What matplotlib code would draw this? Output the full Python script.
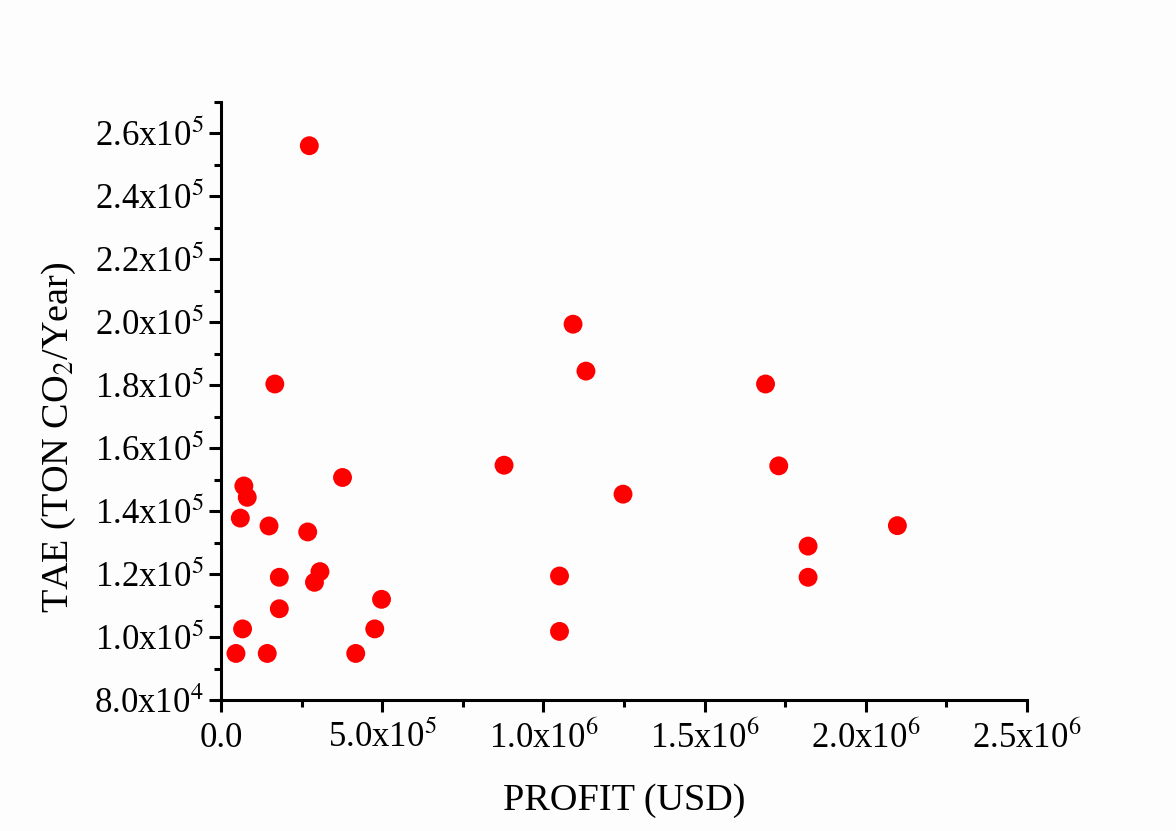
import numpy as np
import matplotlib
matplotlib.use("Agg")
import matplotlib.pyplot as plt
from matplotlib.ticker import FuncFormatter, MultipleLocator

plt.rcParams["font.family"] = ["Liberation Serif", "DejaVu Serif"]
plt.rcParams["mathtext.fontset"] = "stix"

# profit (USD) and TAE (ton CO2/year)
profit = [7.1e4, 8.15e4, 6.0e4, 1.49e5, 2.69e5, 3.77e5, 1.81e5, 3.07e5,
          2.90e5, 1.81e5, 4.98e5, 6.7e4, 4.77e5, 4.65e4, 1.435e5, 4.18e5,
          2.74e5, 1.67e5, 1.092e6, 1.132e6, 8.78e5, 1.247e6, 1.050e6,
          1.050e6, 1.689e6, 1.730e6, 2.098e6, 1.821e6, 1.821e6]
tae = [1.48e5, 1.444e5, 1.378e5, 1.353e5, 1.334e5, 1.507e5, 1.19e5, 1.208e5,
       1.174e5, 1.09e5, 1.12e5, 1.026e5, 1.026e5, 9.48e4, 9.48e4, 9.48e4,
       2.561e5, 1.804e5, 1.994e5, 1.845e5, 1.546e5, 1.454e5, 1.194e5,
       1.018e5, 1.804e5, 1.544e5, 1.354e5, 1.289e5, 1.19e5]


def sci(v, pos):
    if v == 0:
        return "0.0"
    e = int(np.floor(np.log10(abs(v)) + 1e-9))
    m = v / 10 ** e
    return f"{m:.1f}x10$^{{{e}}}$"


fig = plt.figure(figsize=(11.76, 8.31), dpi=100)
fig.patch.set_facecolor("#fdfdfd")
ax = fig.add_axes([0.1879, 0.1576, 0.6854, 0.7197])
ax.set_facecolor("#fdfdfd")

ax.scatter(profit, tae, s=185, c="#ff0000", edgecolors="none", zorder=3)

ax.set_xlim(0, 2.5e6)
ax.set_ylim(8e4, 2.7e5)
ax.xaxis.set_major_locator(MultipleLocator(5e5))
ax.xaxis.set_minor_locator(MultipleLocator(2.5e5))
ax.yaxis.set_major_locator(MultipleLocator(2e4))
ax.yaxis.set_minor_locator(MultipleLocator(1e4))
ax.xaxis.set_major_formatter(FuncFormatter(sci))
ax.yaxis.set_major_formatter(FuncFormatter(sci))

for s in ["top", "right"]:
    ax.spines[s].set_visible(False)
for s in ["left", "bottom"]:
    ax.spines[s].set_linewidth(2.2)

ax.tick_params(which="major", direction="out", length=8.5, width=2.2,
               labelsize=25, pad=7)
ax.tick_params(which="minor", direction="out", length=5, width=2.2)
ax.tick_params(axis="y", pad=4)

ax.set_xlabel("PROFIT (USD)", fontsize=27.5, labelpad=20)
ax.set_ylabel("TAE (TON CO$_2$/Year)", fontsize=27.5)
ax.yaxis.set_label_coords(-0.177, 0.44)

fig.savefig("out.png", dpi=100, facecolor=fig.get_facecolor())
